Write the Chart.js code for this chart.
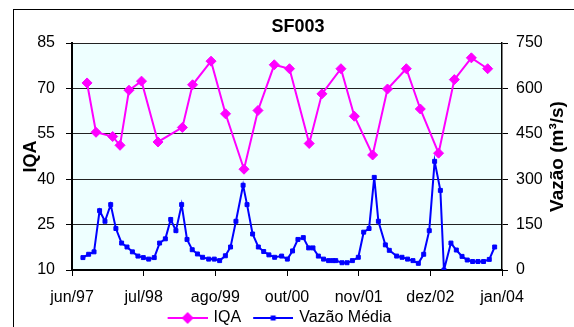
<!DOCTYPE html>
<html>
<head>
<meta charset="utf-8">
<script src="https://cdn.jsdelivr.net/npm/chart.js@4.4.1/dist/chart.umd.min.js"></script>
<style>
  body { margin: 0; background: #fff; }
  canvas { display: block; }
</style>
</head>
<body>
<canvas id="grafico" width="574" height="327"></canvas>
<script>
let titulo = "SF003";
let tituloVazao = "Vazão (m³/s)";
let rotulosX = ["jun/97", "jul/98", "ago/99", "out/00", "nov/01", "dez/02", "jan/04"];

let datasIQA = [
    "1997-09-12", "1997-11-01", "1998-02-02", "1998-03-15", "1998-05-04", "1998-07-13", "1998-10-13",
    "1999-02-26", "1999-04-24", "1999-08-05", "1999-10-25", "2000-02-05", "2000-04-23", "2000-07-23",
    "2000-10-16", "2001-02-03", "2001-04-15", "2001-07-30", "2001-10-13", "2002-01-23", "2002-04-16",
    "2002-07-30", "2002-10-16", "2003-01-26", "2003-04-24", "2003-07-28", "2003-10-27"
];
let valoresIQA = [
    71.8, 55.5, 54.1, 51.2, 69.4, 72.4, 52.3,
    57.1, 71.2, 79.0, 61.6, 43.3, 62.7, 77.8,
    76.5, 51.8, 68.2, 76.5, 60.8, 48.0, 69.8,
    76.5, 63.2, 48.6, 72.9, 80.1, 76.5
];

let datasVazao = [
    "1997-08-20", "1997-09-21", "1997-10-21", "1997-11-21", "1997-12-21",
    "1998-01-22", "1998-02-20", "1998-03-24", "1998-04-23", "1998-05-23", "1998-06-23",
    "1998-07-23", "1998-08-22", "1998-09-22", "1998-10-22", "1998-11-23", "1998-12-23",
    "1999-01-21", "1999-02-22", "1999-03-24", "1999-04-22", "1999-05-21", "1999-06-19",
    "1999-07-23", "1999-08-23", "1999-09-22", "1999-10-24", "1999-11-22", "1999-12-22",
    "2000-01-31", "2000-02-22", "2000-03-24", "2000-04-25", "2000-05-25", "2000-06-23",
    "2000-07-25", "2000-09-02", "2000-10-04", "2000-11-02", "2000-12-02",
    "2001-01-01", "2001-01-31", "2001-02-24", "2001-03-26", "2001-04-24", "2001-05-22",
    "2001-06-14", "2001-07-01", "2001-08-05", "2001-09-02", "2001-10-02", "2001-11-04", "2001-12-04",
    "2002-01-03", "2002-02-01", "2002-02-24", "2002-04-04", "2002-04-26", "2002-06-06",
    "2002-07-06", "2002-08-06", "2002-09-05", "2002-10-05", "2002-11-04", "2002-12-05",
    "2003-01-04", "2003-02-05", "2003-02-25", "2003-04-05", "2003-05-05", "2003-06-06",
    "2003-07-05", "2003-08-04", "2003-09-03", "2003-10-04", "2003-11-05", "2003-12-05"
];
let valoresVazao = [
    41, 52, 60, 196, 161,
    216, 137, 89, 76, 60, 46,
    41, 36, 41, 89, 103, 167,
    130, 216, 101, 67, 53, 42,
    36, 36, 31, 47, 76, 161,
    280, 216, 119, 76, 61, 50,
    42, 46, 36, 63, 101,
    107, 73, 73, 46, 36, 31,
    31, 31, 24, 24, 31, 42, 125,
    137, 306, 161, 83, 65, 46,
    42, 36, 31, 22, 52, 130,
    359, 263, 0, 89, 66, 45,
    33, 28, 28, 28, 35, 76
];

// eixo de datas do Excel: inicio em 20/06/1997, marca a cada 400 dias
let inicioEixo = Date.UTC(1997, 5, 20);
function dias(data) {
    return (Date.parse(data) - inicioEixo) / 86400000;
}

function pontos(datas, valores) {
    return datas.map(function (d, i) {
        return { x: dias(d), y: valores[i] };
    });
}

// amostra da legenda: linha de 40px com o marcador no meio (10px em branco a esquerda)
function amostraLegenda(cor, losango) {
    let c = document.createElement("canvas");
    c.width = 52;
    c.height = 14;
    let g = c.getContext("2d");
    g.strokeStyle = cor;
    g.lineWidth = 2;
    g.beginPath();
    g.moveTo(12, 7);
    g.lineTo(52, 7);
    g.stroke();
    g.fillStyle = cor;
    if (losango) {
        g.beginPath();
        g.moveTo(26, 7);
        g.lineTo(32, 1);
        g.lineTo(38, 7);
        g.lineTo(32, 13);
        g.closePath();
        g.fill();
    } else {
        g.fillRect(29.5, 4.5, 5, 5);
    }
    return c;
}

let amostras = [amostraLegenda("#FF00FF", true), amostraLegenda("#0000FF", false)];

let textosPlugin = {
    id: "textos",
    beforeDraw: function (chart) {
        let ctx = chart.ctx;
        let a = chart.chartArea;
        ctx.save();
        ctx.fillStyle = "#FFFFFF";
        ctx.fillRect(0, 0, chart.width, chart.height);
        ctx.strokeStyle = "#000";
        ctx.lineWidth = 1;
        ctx.strokeRect(13.5, 9.5, chart.width, chart.height);
        ctx.fillStyle = "#EEFFFF";
        ctx.fillRect(a.left, a.top, a.right - a.left, a.bottom - a.top);
        ctx.restore();
    },
    afterDraw: function (chart) {
        let ctx = chart.ctx;
        let a = chart.chartArea;
        ctx.save();
        ctx.fillStyle = "#000";
        ctx.textAlign = "center";
        ctx.textBaseline = "middle";
        ctx.font = "bold 18px 'Liberation Sans', Arial, sans-serif";
        ctx.fillText(titulo, 298, 27);
        ctx.font = "bold 19px 'Liberation Sans', Arial, sans-serif";
        ctx.translate(558, (a.top + a.bottom) / 2);
        ctx.rotate(-Math.PI / 2);
        ctx.fillText(tituloVazao, 0, 0);
        ctx.restore();
    }
};

Chart.defaults.font.family = "'Liberation Sans', Arial, sans-serif";
Chart.defaults.font.size = 16;
Chart.defaults.color = "#000";

let ctxGrafico = document.getElementById("grafico").getContext("2d");
new Chart(ctxGrafico, {
    type: "line",
    data: {
        datasets: [{
            label: "IQA",
            data: pontos(datasIQA, valoresIQA),
            yAxisID: "y",
            borderColor: "#FF00FF",
            backgroundColor: "#FF00FF",
            borderWidth: 2,
            pointStyle: "rectRot",
            pointRadius: 5,
            pointBorderWidth: 1,
            tension: 0
        }, {
            label: "Vazão Média",
            data: pontos(datasVazao, valoresVazao),
            yAxisID: "y1",
            borderColor: "#0000FF",
            backgroundColor: "#0000FF",
            borderWidth: 2,
            pointStyle: "rect",
            pointRadius: 2.8,
            pointBorderWidth: 1,
            tension: 0
        }]
    },
    options: {
        responsive: false,
        animation: false,
        layout: { padding: { top: 43, left: 0, right: 25, bottom: -9 } },
        plugins: {
            title: { display: false },
            tooltip: { enabled: false },
            legend: {
                position: "bottom",
                labels: {
                    usePointStyle: true,
                    pointStyleWidth: 48,
                    padding: 2,
                    font: { size: 16 },
                    generateLabels: function (chart) {
                        return chart.data.datasets.map(function (ds, i) {
                            return {
                                text: ds.label,
                                pointStyle: amostras[i],
                                fillStyle: ds.borderColor,
                                strokeStyle: ds.borderColor,
                                lineWidth: 0,
                                hidden: false,
                                datasetIndex: i
                            };
                        });
                    }
                }
            }
        },
        scales: {
            x: {
                type: "linear",
                min: 0,
                max: 2400,
                afterFit: function (s) { s.height = 38; },
                ticks: {
                    stepSize: 400,
                    autoSkip: false,
                    maxRotation: 0,
                    padding: 12,
                    callback: function (v) { return rotulosX[Math.round(v / 400)]; }
                },
                grid: { drawOnChartArea: false, tickLength: 6, color: "#000" },
                border: { color: "#000", width: 2 }
            },
            y: {
                position: "left",
                min: 10,
                max: 85,
                afterFit: function (s) { s.width = 72; },
                ticks: { stepSize: 15, padding: 11 },
                grid: { color: "#222", tickLength: 6, tickColor: "#000" },
                border: { color: "#000", width: 2 },
                title: {
                    display: true,
                    text: "IQA",
                    font: { size: 18, weight: "bold" },
                    padding: { top: 20, bottom: 0 }
                }
            },
            y1: {
                position: "right",
                min: 0,
                max: 750,
                afterFit: function (s) { s.width = 47; },
                ticks: { stepSize: 150, padding: 8 },
                grid: { drawOnChartArea: false, tickLength: 6, color: "#000" },
                border: { color: "#000", width: 1.5 }
            }
        }
    },
    plugins: [textosPlugin]
});
</script>
</body>
</html>
